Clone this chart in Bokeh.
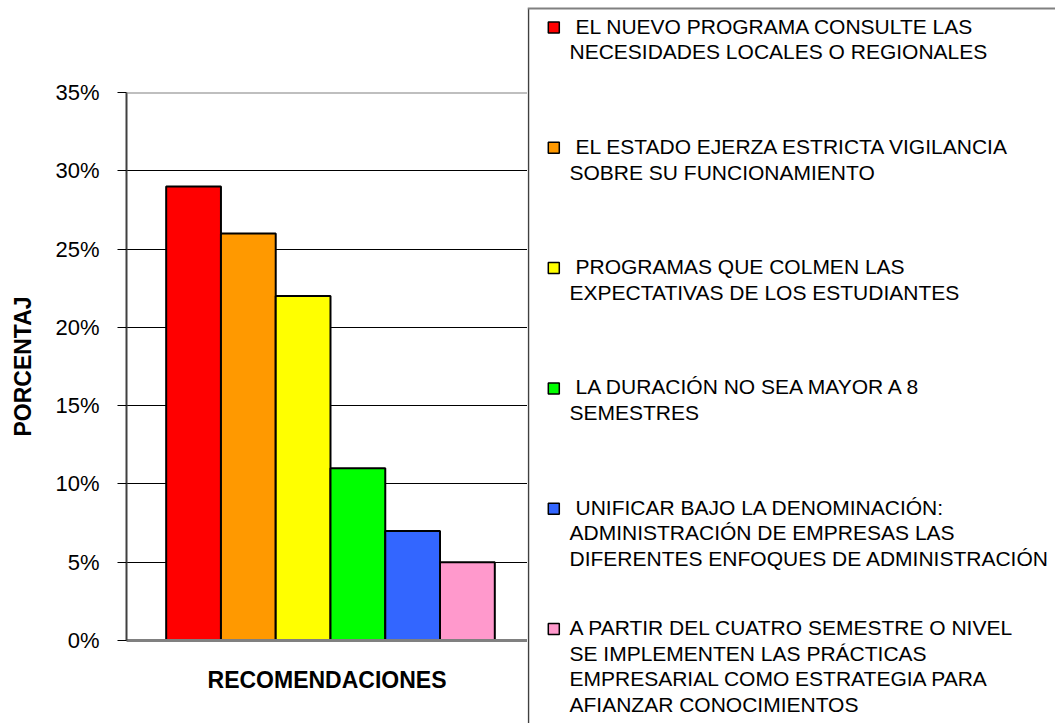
from bokeh.plotting import figure
from bokeh.layouts import row
from bokeh.models import (ColumnDataSource, NumeralTickFormatter, FixedTicker,
                          Range1d, Span)
from bokeh.core.properties import value
from bokeh.embed import file_html
from bokeh.resources import INLINE

# ---------------- data ----------------
categories = [
    " EL NUEVO PROGRAMA CONSULTE LAS\nNECESIDADES LOCALES O REGIONALES",
    " EL ESTADO EJERZA ESTRICTA VIGILANCIA\nSOBRE SU FUNCIONAMIENTO",
    " PROGRAMAS QUE COLMEN LAS\nEXPECTATIVAS DE LOS ESTUDIANTES",
    " LA DURACIÓN NO SEA MAYOR A 8\nSEMESTRES",
    " UNIFICAR BAJO LA DENOMINACIÓN:\nADMINISTRACIÓN DE EMPRESAS LAS\nDIFERENTES ENFOQUES DE ADMINISTRACIÓN",
    "A PARTIR DEL CUATRO SEMESTRE O NIVEL\nSE IMPLEMENTEN LAS PRÁCTICAS\nEMPRESARIAL COMO ESTRATEGIA PARA\nAFIANZAR CONOCIMIENTOS",
]
values = [0.29, 0.26, 0.22, 0.11, 0.07, 0.05]
colors = ["#FF0000", "#FF9900", "#FFFF00", "#00FF00", "#3366FF", "#FF99CC"]
y_ticks = [0.0, 0.05, 0.10, 0.15, 0.20, 0.25, 0.30, 0.35]
x_title = "RECOMENDACIONES"
y_title = "PORCENTAJ"

FONT = "Liberation Sans"
W, H = 1055, 723
MAIN_W = 527

# ---------------- main chart ----------------
p = figure(width=MAIN_W, height=H, output_backend="svg", toolbar_location=None,
           min_border_left=126, min_border_top=92, min_border_right=0,
           min_border_bottom=83,
           x_range=Range1d(-0.7245, 6.597), y_range=Range1d(0, 0.35))
p.frame_align = False

n = len(values)
src = ColumnDataSource(dict(x=[i + 0.5 for i in range(n)], top=values, color=colors))
p.vbar(x="x", top="top", bottom=0, width=1.0, source=src,
       fill_color="color", line_color="black", line_width=2)

p.background_fill_color = "white"
p.border_fill_color = "white"
p.outline_line_color = None

p.xgrid.visible = False
p.ygrid.ticker = FixedTicker(ticks=y_ticks[1:-1])
p.ygrid.grid_line_color = "black"
p.ygrid.grid_line_width = 1
p.add_layout(Span(location=y_ticks[-1], dimension="width", line_color="#808080",
                  line_width=2))

p.yaxis.ticker = FixedTicker(ticks=y_ticks)
p.yaxis.formatter = NumeralTickFormatter(format="0%")
p.yaxis.major_label_text_font = FONT
p.yaxis.major_label_text_font_size = "22px"
p.yaxis.major_label_text_color = "black"
p.yaxis.major_tick_out = 9
p.yaxis.major_tick_in = 0
p.yaxis.minor_tick_out = 0
p.yaxis.minor_tick_in = 0
p.yaxis.major_tick_line_color = "black"
p.yaxis.axis_line_color = "#404040"
p.yaxis.axis_line_width = 2
p.yaxis.major_label_standoff = 18
p.yaxis.axis_label = y_title
p.yaxis.axis_label_text_font = FONT
p.yaxis.axis_label_text_font_size = "23px"
p.yaxis.axis_label_text_font_style = "bold"
p.yaxis.axis_label_text_color = "black"
p.yaxis.axis_label_standoff = 16

p.xaxis.ticker = FixedTicker(ticks=[])
p.xaxis.major_label_text_font_size = "0px"
p.xaxis.major_tick_out = 0
p.xaxis.major_tick_in = 0
p.xaxis.minor_tick_out = 0
p.xaxis.axis_line_color = "#808080"
p.xaxis.axis_line_width = 3
p.xaxis.axis_label = x_title
p.xaxis.axis_label_text_font = FONT
p.xaxis.axis_label_text_font_size = "23px"
p.xaxis.axis_label_text_font_style = "bold"
p.xaxis.axis_label_text_color = "black"
p.xaxis.axis_label_standoff = 26

# ---------------- legend panel ----------------
LW = W - MAIN_W
lg = figure(width=LW, height=H, output_backend="svg", toolbar_location=None,
            x_range=Range1d(0, LW), y_range=Range1d(H, 0),
            x_axis_location=None, y_axis_location=None,
            min_border_left=0, min_border_right=0, min_border_top=0,
            min_border_bottom=0)
lg.frame_align = False
lg.grid.visible = False
lg.outline_line_color = None
lg.background_fill_color = "white"
lg.border_fill_color = "white"

ITEM0, ITEM_PITCH, LINE_PITCH = 27.0, 120.3, 25.7
sq_x, sq_y = [], []
tx, ty, tt = [], [], []
for i, cat in enumerate(categories):
    yc = ITEM0 + i * ITEM_PITCH
    sq_x.append(26.3)
    sq_y.append(yc)
    for j, line in enumerate(cat.split("\n")):
        indent = 6 if line.startswith(" ") else 0
        tx.append(42 + indent)
        ty.append(yc - 1.5 + j * LINE_PITCH)
        tt.append(line.strip())

# legend box borders (left dark, top grey)
lg.segment(x0=[1], y0=[8], x1=[1], y1=[H], line_color="#404040", line_width=1.5)
lg.segment(x0=[0], y0=[8], x1=[LW], y1=[8], line_color="#808080", line_width=2)

lg.rect(x=sq_x, y=sq_y, width=11, height=11, width_units="screen",
        height_units="screen", fill_color=colors, line_color="black",
        line_width=1.5)
lg.text(x=tx, y=ty, text=tt, text_font=value(FONT), text_font_size="21px",
        text_color="black", text_baseline="middle", text_align="left")

layout = row(p, lg, spacing=0)
open("out.html", "w").write(file_html(layout, INLINE))
